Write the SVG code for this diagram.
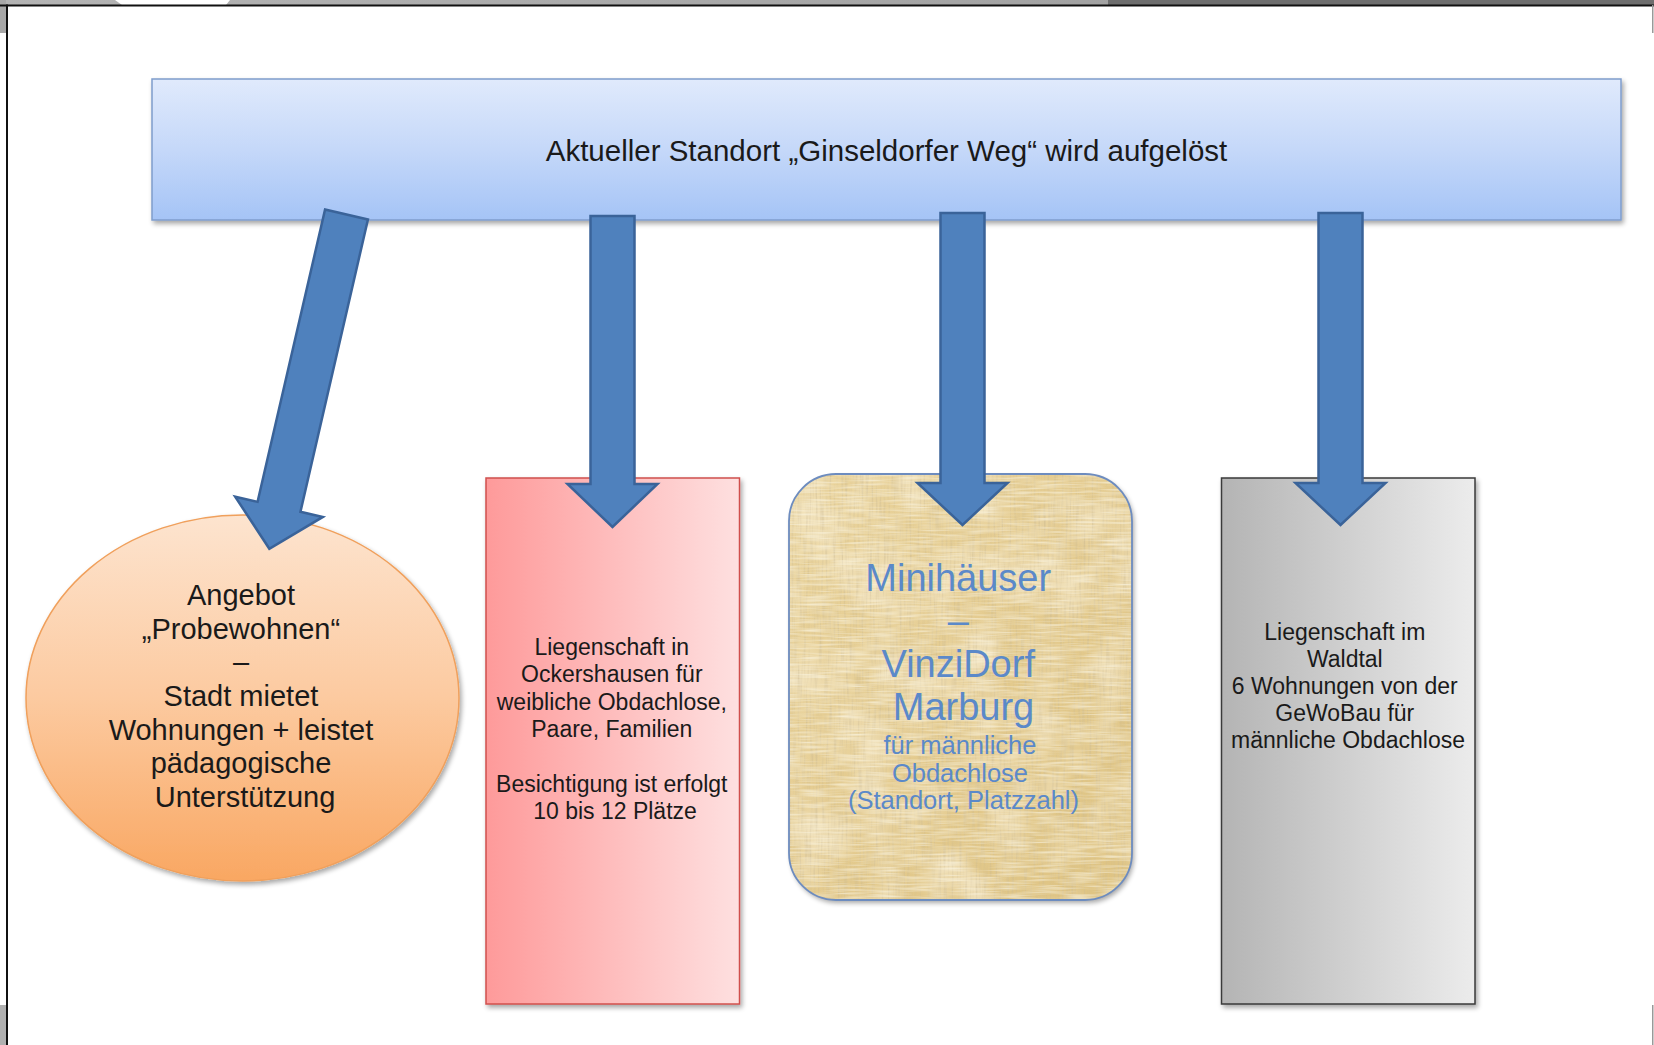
<svg xmlns="http://www.w3.org/2000/svg" width="1654" height="1045" viewBox="0 0 1654 1045">
<defs>
<style>
.t{font-family:"Liberation Sans",Arial,sans-serif;fill:#1a1a1a;text-anchor:middle}
.b{font-family:"Liberation Sans",Arial,sans-serif;fill:#5b89c9;text-anchor:middle}
.arrow{fill:#4f81bd;stroke:#3a6399;stroke-width:2.5;stroke-linejoin:miter}
</style>
<linearGradient id="gBanner" x1="0" y1="0" x2="0" y2="1">
<stop offset="0" stop-color="#e0eafc"/>
<stop offset="0.5" stop-color="#c5d8f9"/>
<stop offset="1" stop-color="#a5c4f6"/>
</linearGradient>
<linearGradient id="gEll" x1="0" y1="0" x2="0" y2="1">
<stop offset="0" stop-color="#fde4cf"/>
<stop offset="0.5" stop-color="#fccaa0"/>
<stop offset="1" stop-color="#f9a762"/>
</linearGradient>
<linearGradient id="gRed" x1="0" y1="0" x2="1" y2="0">
<stop offset="0" stop-color="#fe9a9a"/>
<stop offset="1" stop-color="#fee0e0"/>
</linearGradient>
<linearGradient id="gGray" x1="0" y1="0" x2="1" y2="0">
<stop offset="0" stop-color="#b4b4b4"/>
<stop offset="1" stop-color="#ececec"/>
</linearGradient>
<linearGradient id="gGold" x1="0" y1="0" x2="1" y2="1">
<stop offset="0" stop-color="#ead49d"/>
<stop offset="0.5" stop-color="#e4cb8f"/>
<stop offset="1" stop-color="#dec382"/>
</linearGradient>
<linearGradient id="gTop" x1="0" y1="0" x2="1" y2="0">
<stop offset="0" stop-color="#b4b4b4"/>
<stop offset="1" stop-color="#9a9a9a"/>
</linearGradient>
<filter id="shadow" x="-5%" y="-5%" width="112%" height="115%">
<feGaussianBlur in="SourceAlpha" stdDeviation="2.5"/>
<feOffset dx="2" dy="3" result="o"/>
<feComponentTransfer><feFuncA type="linear" slope="0.35"/></feComponentTransfer>
<feMerge><feMergeNode/><feMergeNode in="SourceGraphic"/></feMerge>
</filter>
<filter id="paper" x="0" y="0" width="100%" height="100%">
<feTurbulence type="fractalNoise" baseFrequency="0.5 0.03" numOctaves="2" seed="4" result="n1"/>
<feColorMatrix in="n1" type="matrix" values="0 0 0 0 0.62  0 0 0 0 0.5  0 0 0 0 0.27  0 0 0 1.3 -0.55" result="c1"/>
<feTurbulence type="fractalNoise" baseFrequency="0.03 0.5" numOctaves="2" seed="9" result="n2"/>
<feColorMatrix in="n2" type="matrix" values="0 0 0 0 0.98  0 0 0 0 0.94  0 0 0 0 0.8  0 0 0 1.3 -0.5" result="c2"/>
<feTurbulence type="fractalNoise" baseFrequency="0.02" numOctaves="2" seed="2" result="n3"/>
<feColorMatrix in="n3" type="matrix" values="0 0 0 0 1  0 0 0 0 0.95  0 0 0 0 0.82  0 0 0 1.2 -0.5" result="c3"/>
<feMerge result="m"><feMergeNode in="c3"/><feMergeNode in="c1"/><feMergeNode in="c2"/></feMerge>
<feComposite in="m" in2="SourceGraphic" operator="in"/>
</filter>
</defs>

<g id="frame">
<rect x="0" y="0" width="1654" height="1045" fill="#ffffff"/>
<rect x="0" y="0" width="1654" height="5" fill="url(#gTop)"/>
<polygon points="115,0 230,0 226,5 122,5" fill="#ffffff"/>
<rect x="1108" y="0" width="546" height="5" fill="#6e6e6e"/>
<rect x="0" y="0" width="6" height="33" fill="#a8a8a8"/>
<rect x="0" y="1005" width="6" height="40" fill="#b0b0b0"/>
<rect x="0" y="4.5" width="1654" height="2" fill="#111111"/>
<rect x="6" y="4.5" width="2" height="1041" fill="#111111"/>
<rect x="1652" y="5" width="1.5" height="28" fill="#999999"/>
<rect x="1652" y="1005" width="1.5" height="40" fill="#999999"/>
</g>

<g id="banner">
<rect x="152" y="79" width="1469" height="141" fill="url(#gBanner)" stroke="#7f9dcc" stroke-width="1.5" filter="url(#shadow)"/>
<text class="t" x="886.5" y="161" font-size="29.5">Aktueller Standort „Ginseldorfer Weg“ wird aufgelöst</text>
</g>

<g id="probewohnen">
<ellipse cx="242.5" cy="698" rx="216.5" ry="183" fill="url(#gEll)" stroke="#f0a05c" stroke-width="1.5" filter="url(#shadow)"/>
<text class="t" font-size="29">
<tspan x="245" y="605">Angebot</tspan>
<tspan x="245" y="639">„Probewohnen“</tspan>
<tspan x="245" y="672">–</tspan>
<tspan x="245" y="706">Stadt mietet</tspan>
<tspan x="245" y="740">Wohnungen + leistet</tspan>
<tspan x="245" y="773">pädagogische</tspan>
<tspan x="245" y="807">Unterstützung</tspan>
</text>
</g>

<g id="ockershausen">
<rect x="486" y="478" width="253.5" height="526" fill="url(#gRed)" stroke="#d0504d" stroke-width="1.5" filter="url(#shadow)"/>
<text class="t" font-size="23">
<tspan x="615" y="655">Liegenschaft in</tspan>
<tspan x="615" y="682">Ockershausen für</tspan>
<tspan x="615" y="709.5">weibliche Obdachlose,</tspan>
<tspan x="615" y="737">Paare, Familien</tspan>
<tspan x="615" y="791.5">Besichtigung ist erfolgt</tspan>
<tspan x="615" y="819">10 bis 12 Plätze</tspan>
</text>
</g>

<g id="vinzidorf">
<rect x="789" y="474" width="343" height="426" rx="47" ry="47" fill="url(#gGold)" filter="url(#shadow)"/>
<rect x="789" y="474" width="343" height="426" rx="47" ry="47" fill="#ffffff" filter="url(#paper)"/>
<rect x="789" y="474" width="343" height="426" rx="47" ry="47" fill="none" stroke="#6d8cbf" stroke-width="1.8"/>
<text class="b" font-size="38">
<tspan x="963.5" y="591">Minihäuser</tspan>
<tspan x="963.5" y="634">–</tspan>
<tspan x="963.5" y="677">VinziDorf</tspan>
<tspan x="963.5" y="720">Marburg</tspan>
</text>
<text class="b" font-size="25.5">
<tspan x="963.5" y="754">für männliche</tspan>
<tspan x="963.5" y="781.5">Obdachlose</tspan>
<tspan x="963.5" y="809">(Standort, Platzzahl)</tspan>
</text>
</g>

<g id="waldtal">
<rect x="1221.5" y="478" width="253.5" height="526" fill="url(#gGray)" stroke="#3a3a3a" stroke-width="1.5" filter="url(#shadow)"/>
<text class="t" font-size="23">
<tspan x="1348" y="640">Liegenschaft im</tspan>
<tspan x="1348" y="667">Waldtal</tspan>
<tspan x="1348" y="694">6 Wohnungen von der</tspan>
<tspan x="1348" y="721">GeWoBau für</tspan>
<tspan x="1348" y="748">männliche Obdachlose</tspan>
</text>
</g>

<g id="connectors">
<polygon class="arrow" transform="translate(346.5,214.5) rotate(13)" points="-22,0 22,0 22,300 45,300 0,343 -45,300 -22,300"/>
<polygon class="arrow" points="590.5,216 634.5,216 634.5,484 657.5,484 612.5,527 567.5,484 590.5,484"/>
<polygon class="arrow" points="940.5,213 984.5,213 984.5,483 1007.5,483 962.5,525 917.5,483 940.5,483"/>
<polygon class="arrow" points="1318.5,213 1362.5,213 1362.5,483 1385.5,483 1340.5,525 1295.5,483 1318.5,483"/>
</g>
</svg>
